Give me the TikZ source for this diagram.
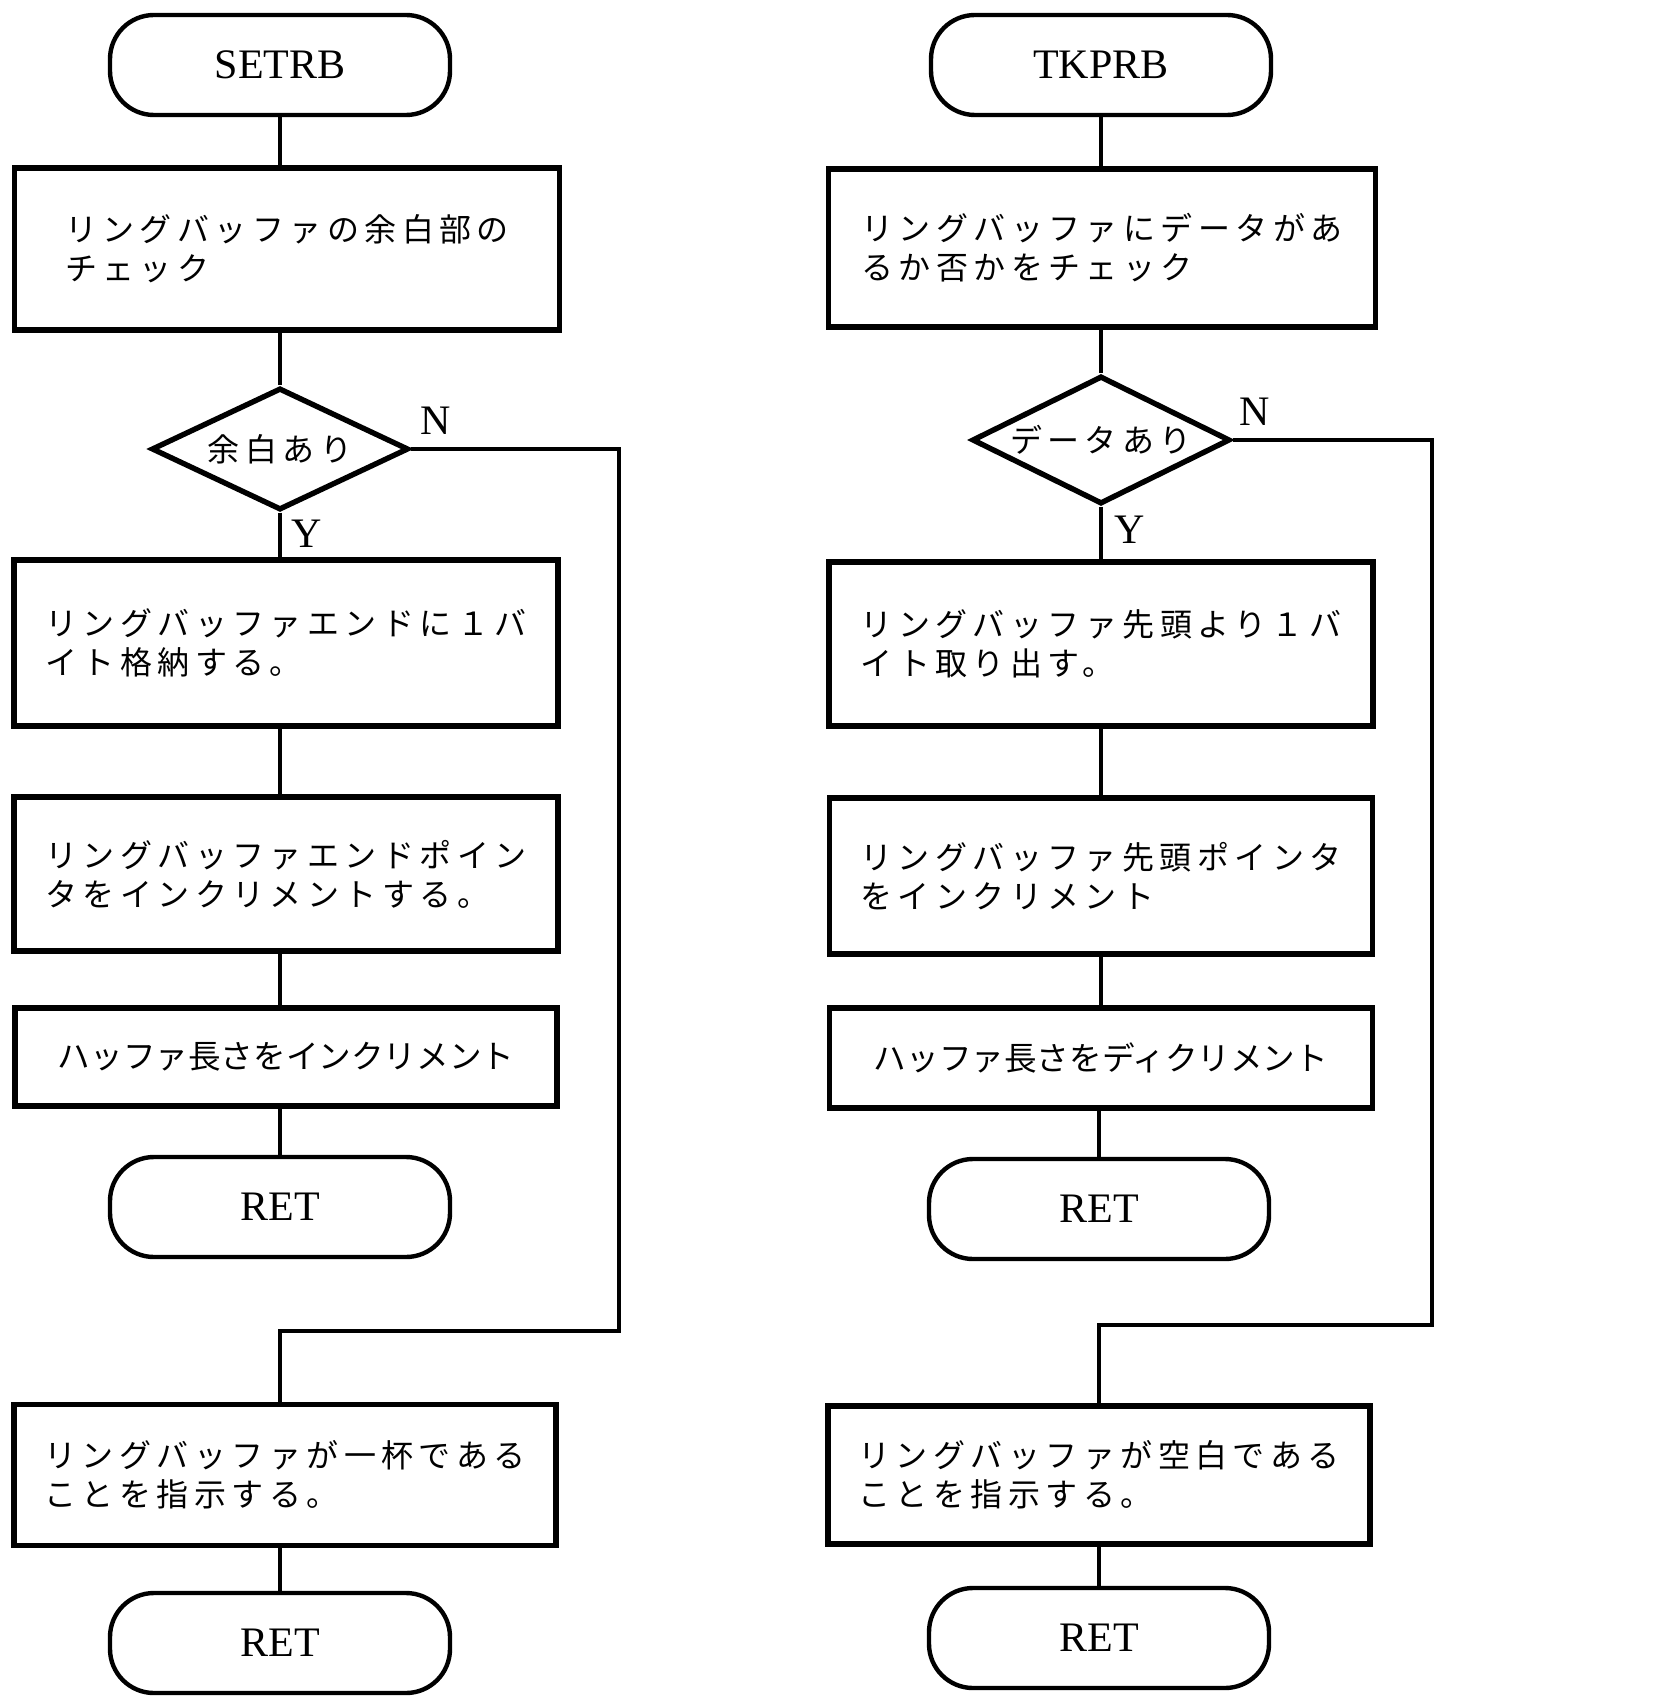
\documentclass[tikz,border=0pt]{standalone}
\usepackage{fontspec}
\setmainfont{Liberation Serif}
\newfontfamily\jp[LetterSpace=17]{Noto Sans CJK JP}
\newfontfamily\jpt{Noto Sans CJK JP}
\usetikzlibrary{shapes.geometric}
\tikzset{
  proc/.style={draw, line width=2.7pt, inner sep=0pt, align=left,
    font=\jp\fontsize{16}{19.5}\selectfont},
  procn/.style={draw, line width=2.7pt, inner sep=0pt, align=left,
    font=\jpt\fontsize{16.3}{19.5}\selectfont},
  term/.style={draw, line width=2.2pt, rounded corners=22pt, inner sep=0pt,
    minimum width=170pt, minimum height=50pt, font=\fontsize{21}{24}\selectfont},
  dec/.style={draw, diamond, aspect=2, line width=2.7pt, inner sep=0pt,
    font=\jp\fontsize{16}{19.5}\selectfont},
  lbl/.style={inner sep=0pt, font=\fontsize{21}{24}\selectfont},
  conn/.style={line width=1.6pt}
}
\begin{document}
\begin{tikzpicture}[x=0.5pt,y=-0.5pt]
\useasboundingbox (0,0) rectangle (1678,1700);

% ---------- left: SETRB ----------
\node[term] (ls) at (280,65) {SETRB};
\node[proc, minimum width=272.5pt, minimum height=81pt] (l1) at (287,249)
  {リングバッファの余白部の\\チェック};
\node[dec, minimum width=128.5pt, minimum height=61pt] (ld) at (280,449) {余白あり};
\node[proc, minimum width=272pt, minimum height=83pt] (l2) at (286,643)
  {リングバッファエンドに１バ\\イト格納する。};
\node[proc, minimum width=272pt, minimum height=77pt] (l3) at (286,874)
  {リングバッファエンドポイン\\タをインクリメントする。};
\node[procn, minimum width=271pt, minimum height=49pt] (l4) at (286,1057)
  {ハッファ長さをインクリメント};
\node[term] (lr1) at (280,1207) {RET};
\node[proc, minimum width=271pt, minimum height=70.5pt] (l5) at (285,1475)
  {リングバッファが一杯である\\ことを指示する。};
\node[term] (lr2) at (280,1643) {RET};
\node[lbl] (ln) at (436,421) {N};
\node[lbl] (ly) at (307,534) {Y};
\coordinate (la) at (619,449);
\coordinate (lb) at (619,1331);
\coordinate (lc) at (280,1331);

\draw[conn] (ls.south) -- (ls.south |- l1.north);
\draw[conn] (ld.north |- l1.south) -- (ld.north);
\draw[conn] (ld.south) -- (ld.south |- l2.north);
\draw[conn] (ld.south |- l2.south) -- (ld.south |- l3.north);
\draw[conn] (ld.south |- l3.south) -- (ld.south |- l4.north);
\draw[conn] (lr1.north |- l4.south) -- (lr1.north);
\draw[conn] (ld.east) -- (la) -- (lb) -- (lc) -- (lc |- l5.north);
\draw[conn] (lr2.north |- l5.south) -- (lr2.north);

% ---------- right: TKPRB ----------
\node[term] (rs) at (1101,65) {TKPRB};
\node[proc, minimum width=273.5pt, minimum height=79pt] (r1) at (1102,248)
  {リングバッファにデータがあ\\るか否かをチェック};
\node[dec, minimum width=129pt, minimum height=64pt] (rd) at (1101,440) {データあり};
\node[proc, minimum width=272pt, minimum height=82pt] (r2) at (1101,644)
  {リングバッファ先頭より１バ\\イト取り出す。};
\node[proc, minimum width=271.5pt, minimum height=78pt] (r3) at (1101,876)
  {リングバッファ先頭ポインタ\\をインクリメント};
\node[procn, minimum width=271.5pt, minimum height=50pt] (r4) at (1101,1058)
  {ハッファ長さをディクリメント};
\node[term] (rr1) at (1099,1209) {RET};
\node[proc, minimum width=271pt, minimum height=69pt] (r5) at (1099,1475)
  {リングバッファが空白である\\ことを指示する。};
\node[term] (rr2) at (1099,1638) {RET};
\node[lbl] (rn) at (1255,412) {N};
\node[lbl] (ry) at (1130,530) {Y};
\coordinate (ra) at (1432,440);
\coordinate (rb) at (1432,1325);
\coordinate (rc) at (1099,1325);

\draw[conn] (rs.south) -- (rs.south |- r1.north);
\draw[conn] (rd.north |- r1.south) -- (rd.north);
\draw[conn] (rd.south) -- (rd.south |- r2.north);
\draw[conn] (rd.south |- r2.south) -- (rd.south |- r3.north);
\draw[conn] (rd.south |- r3.south) -- (rd.south |- r4.north);
\draw[conn] (rr1.north |- r4.south) -- (rr1.north);
\draw[conn] (rd.east) -- (ra) -- (rb) -- (rc) -- (rc |- r5.north);
\draw[conn] (rr2.north |- r5.south) -- (rr2.north);
\end{tikzpicture}
\end{document}
